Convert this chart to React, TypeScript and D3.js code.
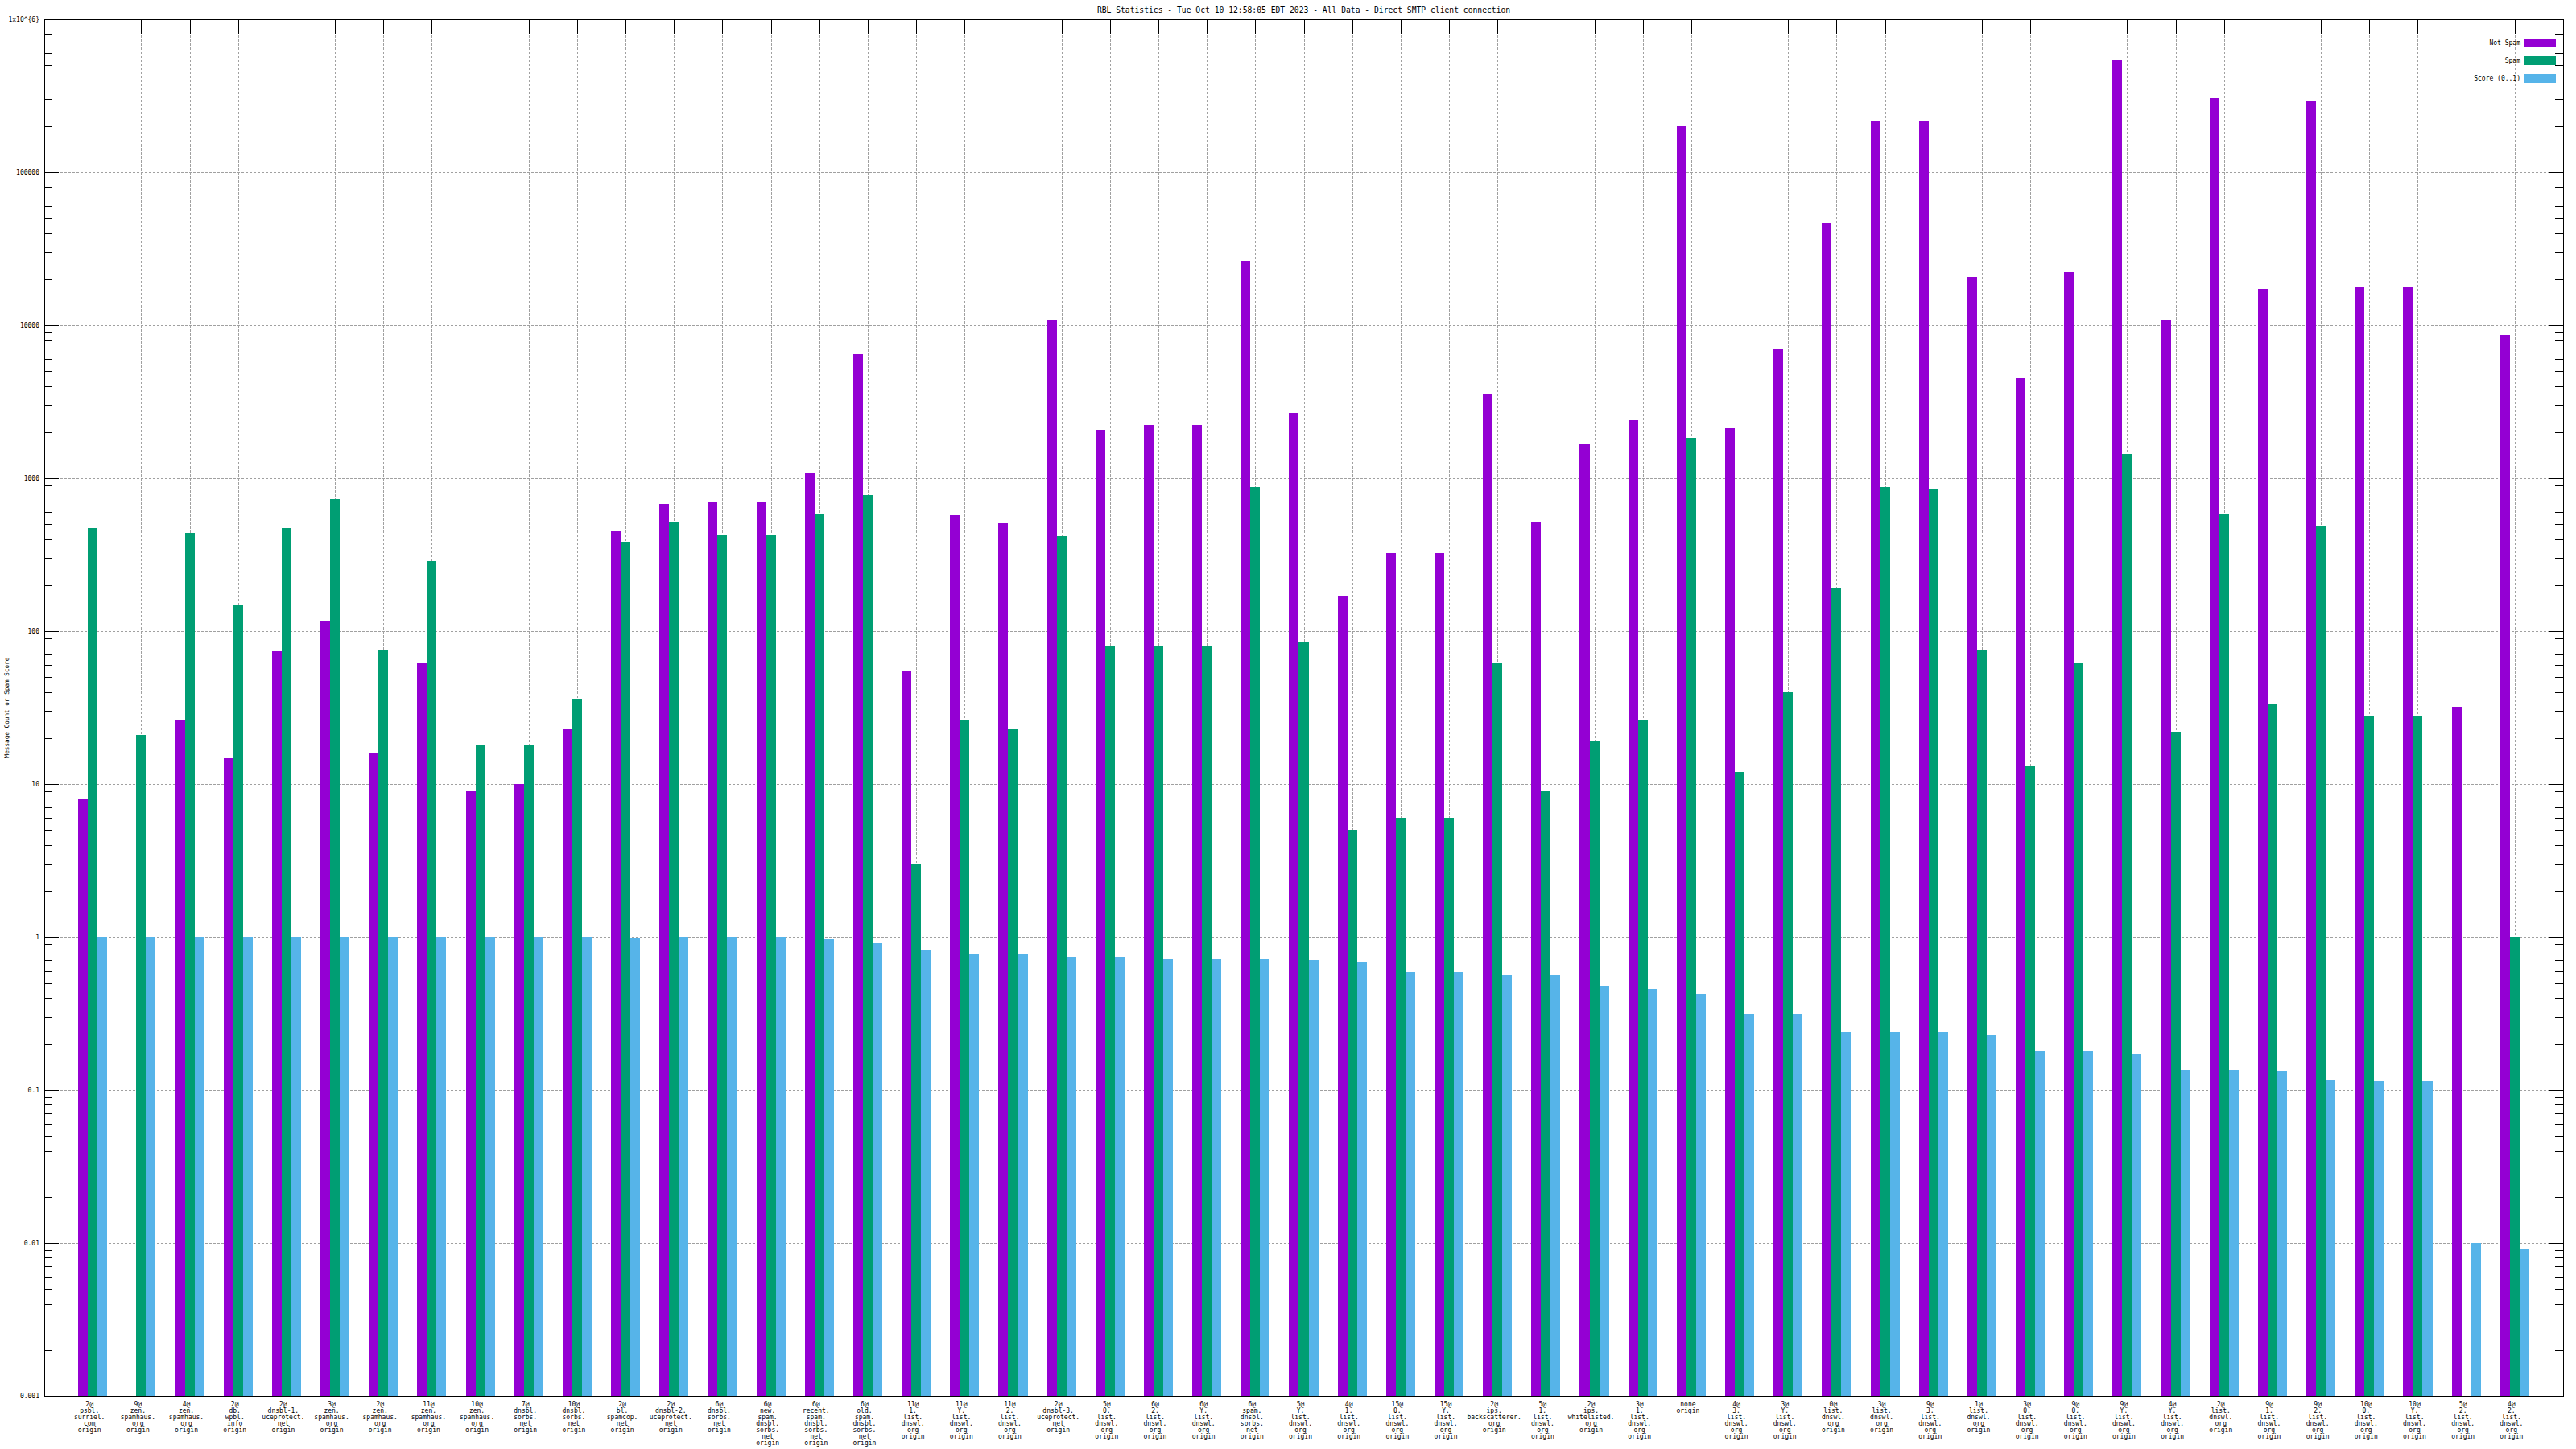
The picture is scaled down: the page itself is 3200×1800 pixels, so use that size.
import React from "react";
import * as d3 from "d3";

const title = "RBL Statistics - Tue Oct 10 12:58:05 EDT 2023 - All Data - Direct SMTP client connection";
const yLabel = "Message Count or Spam Score";

const categories: string[] = [
  "2@|psbl.|surriel.|com|origin",
  "9@|zen.|spamhaus.|org|origin",
  "4@|zen.|spamhaus.|org|origin",
  "2@|db.|wpbl.|info|origin",
  "2@|dnsbl-1.|uceprotect.|net|origin",
  "3@|zen.|spamhaus.|org|origin",
  "2@|zen.|spamhaus.|org|origin",
  "11@|zen.|spamhaus.|org|origin",
  "10@|zen.|spamhaus.|org|origin",
  "7@|dnsbl.|sorbs.|net|origin",
  "10@|dnsbl.|sorbs.|net|origin",
  "2@|bl.|spamcop.|net|origin",
  "2@|dnsbl-2.|uceprotect.|net|origin",
  "6@|dnsbl.|sorbs.|net|origin",
  "6@|new.|spam.|dnsbl.|sorbs.|net|origin",
  "6@|recent.|spam.|dnsbl.|sorbs.|net|origin",
  "6@|old.|spam.|dnsbl.|sorbs.|net|origin",
  "11@|1.|list.|dnswl.|org|origin",
  "11@|Y.|list.|dnswl.|org|origin",
  "11@|2.|list.|dnswl.|org|origin",
  "2@|dnsbl-3.|uceprotect.|net|origin",
  "5@|0.|list.|dnswl.|org|origin",
  "6@|2.|list.|dnswl.|org|origin",
  "6@|Y.|list.|dnswl.|org|origin",
  "6@|spam.|dnsbl.|sorbs.|net|origin",
  "5@|Y.|list.|dnswl.|org|origin",
  "4@|1.|list.|dnswl.|org|origin",
  "15@|0.|list.|dnswl.|org|origin",
  "15@|Y.|list.|dnswl.|org|origin",
  "2@|ips.|backscatterer.|org|origin",
  "5@|1.|list.|dnswl.|org|origin",
  "2@|ips.|whitelisted.|org|origin",
  "3@|1.|list.|dnswl.|org|origin",
  "none|origin",
  "4@|3.|list.|dnswl.|org|origin",
  "3@|Y.|list.|dnswl.|org|origin",
  "0@|list.|dnswl.|org|origin",
  "3@|list.|dnswl.|org|origin",
  "9@|3.|list.|dnswl.|org|origin",
  "1@|list.|dnswl.|org|origin",
  "3@|0.|list.|dnswl.|org|origin",
  "9@|0.|list.|dnswl.|org|origin",
  "9@|Y.|list.|dnswl.|org|origin",
  "4@|Y.|list.|dnswl.|org|origin",
  "2@|list.|dnswl.|org|origin",
  "9@|1.|list.|dnswl.|org|origin",
  "9@|2.|list.|dnswl.|org|origin",
  "10@|0.|list.|dnswl.|org|origin",
  "10@|Y.|list.|dnswl.|org|origin",
  "5@|2.|list.|dnswl.|org|origin",
  "4@|2.|list.|dnswl.|org|origin",
];

const notSpam: number[] = [
  8, 0, 26, 15, 74, 115, 16, 62, 9, 10,
  23, 448, 682, 699, 699, 1090, 6460, 55, 573, 507,
  10850, 2073, 2233, 2233, 26400, 2654, 171, 325, 325, 3570,
  519, 1660, 2405, 200500, 2125, 6960, 46700, 216000, 216000, 20600,
  4570, 22200, 539000, 10850, 305000, 17350, 290000, 17800, 17800, 32,
  8690,
];

const spam: number[] = [
  471, 21, 437, 147, 471, 734, 76, 287, 18, 18,
  36, 386, 519, 426, 426, 588, 771, 3, 26, 23,
  416, 79, 79, 79, 873, 85, 5, 6, 6, 62,
  9, 19, 26, 1830, 12, 40, 189, 873, 852, 76,
  13, 62, 1430, 22, 588, 33, 482, 28, 28, 0,
  1,
];

const score: number[] = [
  1, 1, 1, 1, 1, 1, 1, 1, 1, 1,
  1, 0.99, 1, 1, 1, 0.98, 0.906, 0.82, 0.78, 0.78,
  0.74, 0.74, 0.725, 0.725, 0.725, 0.71, 0.69, 0.595, 0.595, 0.566,
  0.566, 0.476, 0.453, 0.421, 0.313, 0.313, 0.239, 0.239, 0.239, 0.227,
  0.182, 0.182, 0.173, 0.135, 0.135, 0.132, 0.117, 0.114, 0.114, 0.01,
  0.0091,
];

const seriesNames = ["Not Spam", "Spam", "Score (0..1)"];
const seriesColors = ["#9400d3", "#009e73", "#56b4e9"];

const yTickValues = [0.001, 0.01, 0.1, 1, 10, 100, 1000, 10000, 100000, 1000000];
const yTickLabels = ["0.001", "0.01", "0.1", "1", "10", "100", "1000", "10000", "100000", "1x10^{6}"];

const W = 3200;
const H = 1800;
const L = 55;
const R = 3184;
const T = 24;
const B = 1734;
const FONT = "'DejaVu Sans Mono', monospace";

export default function App() {
  const x = d3.scaleLinear().domain([-1, categories.length]).range([L, R]);
  const y = d3.scaleLog().domain([0.001, 1000000]).range([B, T]);
  const unit = x(1) - x(0);
  const bw = unit / 5;
  const series = [notSpam, spam, score];

  const minor: number[] = [];
  for (let e = -3; e < 6; e++) {
    for (let m = 2; m <= 9; m++) minor.push(m * Math.pow(10, e));
  }

  const grid = "#a0a0a0";

  return (
    <svg
      width={W}
      height={H}
      style={{ position: "absolute", left: 0, top: 0, background: "#fff" }}
      fontFamily={FONT}
    >
      <rect x={0} y={0} width={W} height={H} fill="#fff" />
      {/* grid */}
      <g shapeRendering="crispEdges" stroke={grid} strokeWidth={1} strokeDasharray="3,2">
        {yTickValues.slice(1, -1).map((v) => (
          <line key={"gy" + v} x1={L} x2={R} y1={Math.round(y(v)) + 0.5} y2={Math.round(y(v)) + 0.5} />
        ))}
        {categories.map((c, i) => (
          <line key={"gx" + i} x1={Math.round(x(i)) + 0.5} x2={Math.round(x(i)) + 0.5} y1={T} y2={B} />
        ))}
      </g>
      {/* bars */}
      <g shapeRendering="crispEdges">
        {series.map((s, si) =>
          s.map((v, i) => {
            if (!v || v <= 0) return null;
            const x0 = x(i) + (si - 1.5) * bw;
            const top = y(v);
            return (
              <rect
                key={si + "-" + i}
                x={Math.round(x0)}
                y={Math.round(top)}
                width={Math.round(x0 + bw) - Math.round(x0)}
                height={B - Math.round(top)}
                fill={seriesColors[si]}
              />
            );
          })
        )}
      </g>
      {/* ticks */}
      <g shapeRendering="crispEdges" stroke="#000" strokeWidth={1}>
        {yTickValues.map((v) => {
          const yy = Math.round(y(v)) + 0.5;
          return (
            <g key={"yt" + v}>
              <line x1={L} x2={L + 18} y1={yy} y2={yy} />
              <line x1={R - 18} x2={R} y1={yy} y2={yy} />
            </g>
          );
        })}
        {minor.map((v) => {
          const yy = Math.round(y(v)) + 0.5;
          return (
            <g key={"ym" + v}>
              <line x1={L} x2={L + 10} y1={yy} y2={yy} />
              <line x1={R - 10} x2={R} y1={yy} y2={yy} />
            </g>
          );
        })}
        {categories.map((c, i) => {
          const xx = Math.round(x(i)) + 0.5;
          return <line key={"xt" + i} x1={xx} x2={xx} y1={T} y2={T + 18} />;
        })}
        <rect x={L + 0.5} y={T + 0.5} width={R - L} height={B - T} fill="none" />
      </g>
      {/* y tick labels */}
      <g fontSize={8} fill="#000" textAnchor="end">
        {yTickValues.map((v, k) => (
          <text key={"yl" + v} x={L - 6} y={y(v)} dominantBaseline="central">
            {yTickLabels[k]}
          </text>
        ))}
      </g>
      {/* x tick labels */}
      <g fontSize={8} fill="#000" textAnchor="middle">
        {categories.map((c, i) => (
          <text key={"xl" + i} x={x(i) - 4} y={0}>
            {c.split("|").map((line, k) => (
              <tspan key={k} x={x(i) - 4} y={1744 + k * 8} dominantBaseline="central">
                {line}
              </tspan>
            ))}
          </text>
        ))}
      </g>
      {/* title */}
      <text x={(L + R) / 2} y={12} fontSize={9.7} textAnchor="middle" dominantBaseline="central">
        {title}
      </text>
      {/* y label */}
      <text
        transform={`translate(8, ${(T + B) / 2}) rotate(-90)`}
        fontSize={7.7}
        textAnchor="middle"
        dominantBaseline="central"
      >
        {yLabel}
      </text>
      {/* legend */}
      <g fontSize={8}>
        {seriesNames.map((n, k) => {
          const cy = 53.5 + k * 22;
          return (
            <g key={"lg" + k}>
              <text x={3131} y={cy} textAnchor="end" dominantBaseline="central">
                {n}
              </text>
              <rect x={3136} y={Math.round(cy - 5.5)} width={39} height={11} fill={seriesColors[k]} shapeRendering="crispEdges" />
            </g>
          );
        })}
      </g>
    </svg>
  );
}
